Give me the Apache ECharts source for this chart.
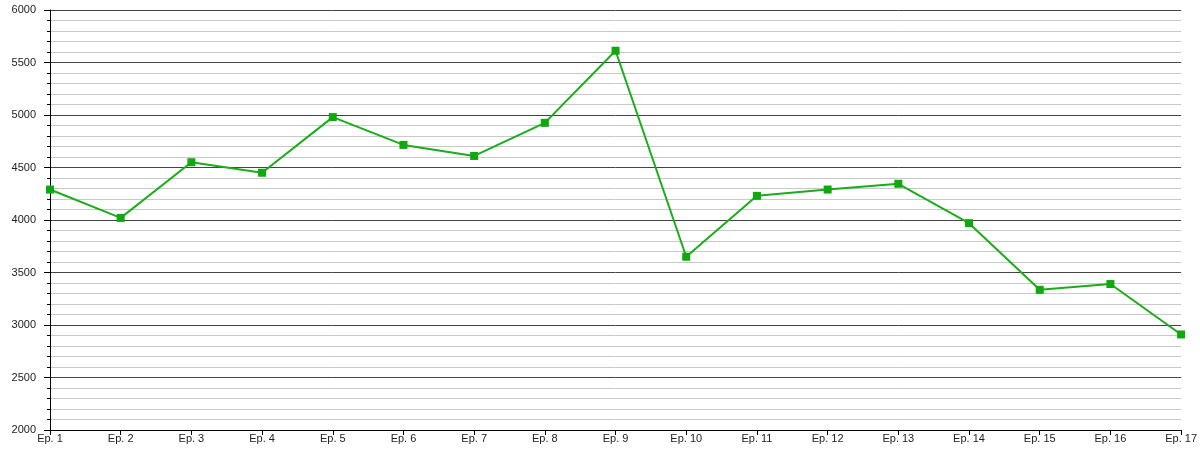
<!DOCTYPE html>
<html>
<head>
<meta charset="utf-8">
<script src="https://cdn.jsdelivr.net/npm/echarts@6/dist/echarts.min.js"></script>
<style>
  html, body { margin: 0; padding: 0; background: #fff; }
  #chart { width: 1200px; height: 450px; }
</style>
</head>
<body>
<div id="chart"></div>
<script>
// episode categories
const episodes = ['Ep. 1', 'Ep. 2', 'Ep. 3', 'Ep. 4', 'Ep. 5', 'Ep. 6', 'Ep. 7', 'Ep. 8', 'Ep. 9',
    'Ep. 10', 'Ep. 11', 'Ep. 12', 'Ep. 13', 'Ep. 14', 'Ep. 15', 'Ep. 16', 'Ep. 17']
// values
const values = [4290, 4020, 4550, 4450, 4980, 4715, 4610, 4925, 5612,
    3650, 4230, 4290, 4345, 3970, 3335, 3390, 2910]

const chart = echarts.init(document.getElementById('chart'))
const option = {
    animation: false,
    grid: { left: 50, right: 15, top: 10, bottom: 20 },
    textStyle: { fontFamily: 'Liberation Sans, Arial, sans-serif' },
    xAxis: {
        type: 'category',
        data: episodes,
        boundaryGap: false,
        axisLine: { lineStyle: { color: '#000', width: 1 } },
        axisTick: { show: true, length: 5, lineStyle: { color: '#000' } },
        axisLabel: { color: '#222', fontSize: 11, margin: 3, interval: 0 },
        splitLine: { show: false }
    },
    yAxis: {
        type: 'value',
        min: 2000,
        max: 6000,
        interval: 500,
        axisLine: { show: true, lineStyle: { color: '#000', width: 1 } },
        axisTick: { show: true, length: 6, lineStyle: { color: '#000' } },
        minorTick: { show: true, splitNumber: 5, length: 3, lineStyle: { color: '#000' } },
        axisLabel: { color: '#222', fontSize: 11, margin: 14, formatter: (v) => String(v) },
        splitLine: { show: true, lineStyle: { color: '#444', width: 1 } },
        minorSplitLine: { show: true, lineStyle: { color: '#c8c8c8', width: 1 } }
    },
    series: [
        {
            type: 'line',
            data: values,
            symbol: 'rect',
            symbolSize: 8,
            lineStyle: { color: '#1aad1a', width: 2 },
            itemStyle: { color: '#0fa80f' }
        }
    ]
}
chart.setOption(option)
</script>
</body>
</html>
